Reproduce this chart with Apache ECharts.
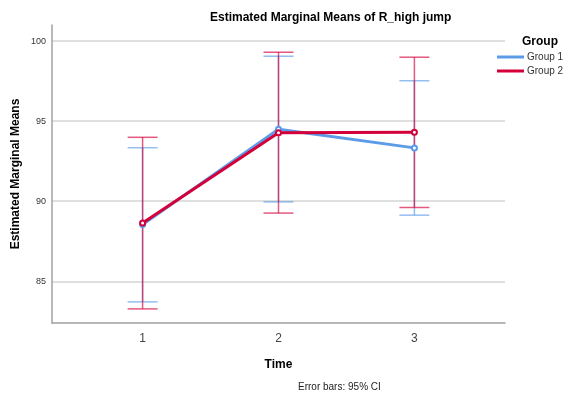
<!DOCTYPE html>
<html>
<head>
<meta charset="utf-8">
<script src="https://cdn.jsdelivr.net/npm/echarts@6/dist/echarts.min.js"></script>
<style>
  html, body { margin: 0; padding: 0; background: #fff; }
  #chart { width: 565px; height: 393px; }
</style>
</head>
<body>
<div id="chart"></div>
<script>
// 数据
const times = [1, 2, 3];
const group1Mean = [88.55, 94.50, 93.33];
const group1Lower = [83.72, 89.96, 89.13];
const group1Upper = [93.34, 99.05, 97.52];
const group2Mean = [88.64, 94.28, 94.30];
const group2Lower = [83.28, 89.26, 89.61];
const group2Upper = [93.99, 99.30, 98.99];
const yTicks = [85, 90, 95, 100];

const FONT = 'Liberation Sans, Arial, sans-serif';
const BLUE = '#5b9be8';
const RED = '#d4003a';

// 误差线
function errorBar(color) {
    return function(params, api) {
        const x = api.value(0);
        const lo = api.coord([x, api.value(1)]);
        const hi = api.coord([x, api.value(2)]);
        const half = 15;
        const style = { stroke: color, lineWidth: 1.5, opacity: 0.65 };
        return {
            type: 'group',
            children: [
                { type: 'line', shape: { x1: lo[0], y1: lo[1], x2: hi[0], y2: hi[1] }, style: style },
                { type: 'line', shape: { x1: lo[0] - half, y1: lo[1], x2: lo[0] + half, y2: lo[1] }, style: style },
                { type: 'line', shape: { x1: hi[0] - half, y1: hi[1], x2: hi[0] + half, y2: hi[1] }, style: style }
            ]
        };
    };
}

const chart = echarts.init(document.getElementById('chart'));

const option = {
    animation: false,
    textStyle: { fontFamily: FONT },
    title: [
        {
            text: 'Estimated Marginal Means of R_high jump',
            left: 205, top: 7,
            textStyle: { fontSize: 12, fontWeight: 'bold', color: '#000', fontFamily: FONT }
        },
        {
            text: 'Group',
            left: 517, top: 31,
            textStyle: { fontSize: 12, fontWeight: 'bold', color: '#000', fontFamily: FONT }
        },
        {
            text: 'Error bars: 95% CI',
            left: 293, top: 377,
            textStyle: { fontSize: 10, fontWeight: 'normal', color: '#222', fontFamily: FONT }
        }
    ],
    legend: {
        data: ['Group 1', 'Group 2'],
        orient: 'vertical',
        left: 497, top: 52,
        padding: 0,
        icon: 'rect',
        itemWidth: 27, itemHeight: 3,
        itemGap: 4,
        textStyle: { fontSize: 10, color: '#333', fontFamily: FONT, padding: [0, 0, 0, -2] }
    },
    grid: { left: 52, right: 60, top: 25, bottom: 70 },
    xAxis: {
        type: 'value',
        min: 1 / 3, max: 11 / 3,
        name: 'Time',
        nameLocation: 'middle',
        nameGap: 36,
        nameTextStyle: { fontSize: 12, fontWeight: 'bold', color: '#000', fontFamily: FONT },
        axisLine: { lineStyle: { color: '#a0a0a0', width: 1.5 } },
        axisTick: { show: false, customValues: times },
        axisLabel: { customValues: times, fontSize: 12, color: '#444', margin: 10 },
        splitLine: { show: false }
    },
    yAxis: {
        type: 'value',
        min: 82.4, max: 101,
        name: 'Estimated Marginal Means',
        nameLocation: 'middle',
        nameGap: 30,
        nameMoveOverlap: false,
        nameTextStyle: { fontSize: 12, fontWeight: 'bold', color: '#000', fontFamily: FONT },
        axisLine: { show: true, lineStyle: { color: '#a0a0a0', width: 1.5 } },
        axisTick: { show: false, customValues: yTicks },
        axisLabel: { customValues: yTicks, fontSize: 9, color: '#333', margin: 6 },
        splitLine: { show: true, lineStyle: { color: '#d4d4d4', width: 1.5 } }
    },
    series: [
        {
            name: 'err1',
            type: 'custom',
            renderItem: errorBar(BLUE),
            data: times.map((t, i) => [t, group1Lower[i], group1Upper[i]]),
            z: 2
        },
        {
            name: 'err2',
            type: 'custom',
            renderItem: errorBar(RED),
            data: times.map((t, i) => [t, group2Lower[i], group2Upper[i]]),
            z: 3
        },
        {
            name: 'Group 1',
            type: 'line',
            data: times.map((t, i) => [t, group1Mean[i]]),
            symbol: 'emptyCircle',
            symbolSize: 5,
            itemStyle: { color: BLUE, borderWidth: 1 },
            lineStyle: { color: BLUE, width: 3 },
            z: 4
        },
        {
            name: 'Group 2',
            type: 'line',
            data: times.map((t, i) => [t, group2Mean[i]]),
            symbol: 'emptyCircle',
            symbolSize: 5,
            itemStyle: { color: RED, borderWidth: 1 },
            lineStyle: { color: RED, width: 3 },
            z: 5
        }
    ]
};

chart.setOption(option);
</script>
</body>
</html>
